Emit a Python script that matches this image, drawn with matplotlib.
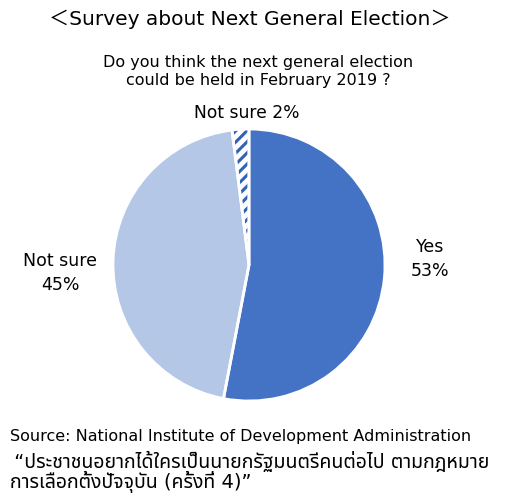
import matplotlib
matplotlib.use("Agg")
import matplotlib.pyplot as plt

labels = ["Yes", "Not sure", "Not sure"]
values = [53, 45, 2]
colors = ["#4472C4", "#B4C7E7", "#FFFFFF"]

title = "＜Survey about Next General Election＞"
subtitle = "Do you think the next general election\ncould be held in February 2019 ?"
source_lines = ["Source: National Institute of Development Administration",
                " “ประชาชนอยากได้ใครเป็นนายกรัฐมนตรีคนต่อไป ตามกฎหมาย",
                "การเลือกตั้งปัจจุบัน (ครั้งที่ 4)”"]

FONT = ["DejaVu Sans", "Noto Sans CJK JP", "Noto Sans Thai", "Sarabun", "Bai Jamjuree"]
plt.rcParams['font.family'] = FONT
plt.rcParams['hatch.linewidth'] = 2.2

W, H = 512, 493
fig = plt.figure(figsize=(W / 100, H / 100), dpi=100)

def px(x, y):
    return x / W, 1 - y / H

cx, cy, r = 249, 265, 136
ax = fig.add_axes([(cx - r) / W, (H - cy - r) / H, 2 * r / W, 2 * r / H])
wedges, _ = ax.pie(values, colors=colors, startangle=90, counterclock=False,
                   wedgeprops=dict(linewidth=0))
wedges[2].set_hatch("///")
wedges[2].set_edgecolor("#2F62B8")
wedges[2].set_linewidth(0)
# white separators
ax.pie(values, colors=["none"] * 3, startangle=90, counterclock=False,
       wedgeprops=dict(linewidth=2, edgecolor="white", fill=False))
ax.set_xlim(-1.0, 1.0)
ax.set_ylim(-1.0, 1.0)
ax.set_aspect("equal")
ax.axis("off")

fig.text(*px(250, 19), title, ha="center", va="center", fontsize=14.5)
fig.text(*px(258, 72), subtitle, ha="center", va="center", fontsize=11.5,
         linespacing=1.25)

fig.text(*px(247, 113), f"{labels[2]} {values[2]}%", ha="center", va="center", fontsize=12.3)
fig.text(*px(430, 259), f"{labels[0]}\n{values[0]}%", ha="center", va="center",
         fontsize=12.5, linespacing=1.5)
fig.text(*px(60, 273), f"{labels[1]}\n{values[1]}%", ha="center", va="center",
         fontsize=12.5, linespacing=1.5)

fig.text(*px(10, 436), source_lines[0], ha="left", va="center", fontsize=11.5)
fig.text(*px(8, 461), source_lines[1], ha="left", va="center", fontsize=14)
fig.text(*px(10, 482), source_lines[2], ha="left", va="center", fontsize=14)

fig.savefig("out.png", dpi=100)
